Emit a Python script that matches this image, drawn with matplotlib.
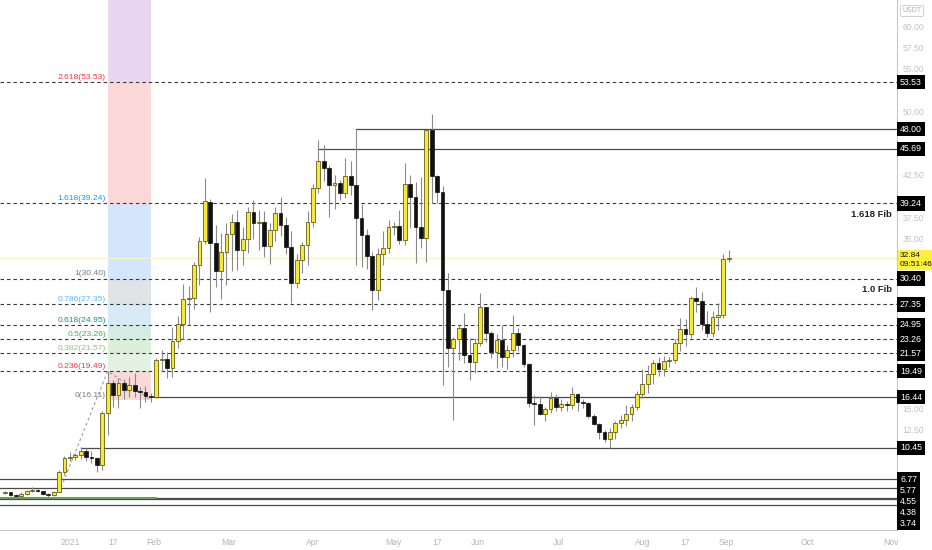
import numpy as np
import matplotlib
matplotlib.use('Agg')
import matplotlib.pyplot as plt

# ---------------- data (2-day candles) ----------------
opens = [5.1, 5.2, 4.9, 4.8, 5.0, 5.4, 5.45, 5.35, 5.0, 4.95,
         5.3, 7.6, 9.25, 9.4, 9.6, 10.05, 9.4, 9.3, 8.4, 14.6,
         18.1, 16.7, 18.1, 17.3, 17.9, 17.2, 17.0, 16.6, 16.44, 20.8,
         20.9, 19.9, 23.0, 25.0, 28.0, 28.1, 32.0, 34.8, 39.4, 34.6,
         31.3, 33.5, 35.6, 37.0, 33.8, 35.1, 38.2, 36.9, 37.1, 34.2,
         36.1, 38.1, 36.7, 34.1, 29.9, 32.6, 34.3, 37.0, 41.1, 44.2,
         43.4, 41.4, 41.6, 40.5, 42.5, 41.4, 37.5, 35.5, 33.0, 29.0,
         33.3, 34.0, 36.5, 36.6, 34.9, 41.5, 40.0, 36.5, 35.2, 47.9,
         42.5, 40.6, 29.0, 22.2, 23.3, 24.6, 21.4, 20.6, 22.8, 27.0,
         24.0, 21.7, 23.2, 21.2, 22.0, 24.0, 22.6, 20.3, 15.7, 15.6,
         14.5, 15.0, 16.3, 15.3, 15.6, 15.45, 16.8, 15.9, 15.75, 14.2,
         13.3, 12.3, 11.5, 12.3, 13.4, 13.7, 14.4, 15.3, 16.8, 18.0,
         19.2, 20.4, 19.7, 20.7, 20.8, 22.8, 24.5, 23.9, 28.1, 27.7,
         25.1, 24.0, 25.9, 26.1, 32.7]
highs = [5.4, 5.3, 5.0, 5.2, 5.5, 5.8, 5.6, 5.4, 5.1, 5.4,
         7.8, 9.5, 10.0, 9.9, 10.5, 10.4, 10.1, 9.4, 14.8, 19.49,
         18.5, 18.7, 18.6, 18.8, 19.3, 17.6, 17.7, 16.9, 21.0, 22.0,
         21.7, 24.7, 26.0, 29.8, 29.5, 32.3, 35.3, 42.2, 39.8, 36.7,
         35.8, 36.9, 38.0, 38.5, 36.5, 38.8, 39.6, 38.5, 38.4, 36.9,
         38.8, 40.0, 37.6, 36.0, 33.3, 34.7, 38.3, 41.5, 46.7, 46.1,
         43.8, 42.6, 42.0, 44.6, 44.2, 48.0, 39.2, 36.2, 33.5, 34.0,
         36.0, 37.3, 37.0, 38.5, 44.0, 42.6, 41.8, 42.3, 48.0, 49.8,
         42.6, 41.3, 31.0, 23.5, 25.0, 26.3, 23.4, 23.4, 28.7, 27.1,
         24.2, 23.9, 24.9, 22.6, 26.1, 24.6, 22.7, 20.5, 16.7, 16.6,
         15.3, 17.0, 16.8, 16.2, 16.0, 17.6, 16.9, 16.2, 15.9, 14.5,
         13.4, 12.6, 12.8, 13.6, 14.3, 15.5, 15.6, 17.2, 19.7, 20.2,
         20.8, 21.2, 21.3, 21.2, 23.3, 25.7, 25.6, 28.3, 29.4, 28.8,
         26.6, 26.6, 27.5, 33.3, 33.7]
lows = [5.0, 4.8, 4.7, 4.7, 4.9, 5.2, 5.2, 4.9, 4.7, 4.8,
        5.2, 7.3, 8.9, 9.0, 9.1, 8.9, 8.7, 7.6, 7.9, 12.0,
        15.3, 15.2, 16.2, 16.5, 16.4, 15.1, 15.8, 15.8, 16.3, 19.5,
        18.7, 18.8, 22.2, 23.3, 24.9, 26.8, 29.6, 34.5, 26.5, 29.4,
        28.0, 29.6, 31.3, 31.4, 32.0, 33.4, 35.0, 33.8, 32.9, 32.1,
        34.8, 35.4, 33.3, 27.5, 29.3, 31.0, 32.0, 36.5, 40.5, 41.9,
        37.6, 38.6, 39.6, 39.9, 40.2, 32.0, 31.8, 31.5, 26.7, 27.9,
        32.0, 33.4, 35.5, 34.5, 34.4, 36.3, 32.2, 34.0, 32.3, 39.3,
        39.3, 17.8, 20.0, 13.7, 20.8, 20.4, 18.4, 19.3, 22.4, 22.9,
        21.0, 19.9, 20.0, 19.8, 21.2, 21.9, 20.0, 15.3, 13.1, 14.3,
        13.6, 14.6, 14.8, 14.8, 14.8, 15.0, 14.8, 15.2, 14.0, 13.1,
        11.5, 11.2, 10.45, 11.5, 12.8, 13.0, 13.6, 14.9, 16.3, 16.9,
        18.0, 18.9, 18.9, 20.0, 20.4, 21.9, 22.4, 23.4, 26.4, 24.3,
        23.5, 23.5, 24.3, 25.8, 32.3]
closes = [5.2, 4.9, 4.8, 5.0, 5.4, 5.45, 5.35, 5.0, 4.95, 5.3,
          7.6, 9.25, 9.4, 9.6, 10.05, 9.4, 9.3, 8.4, 14.6, 18.1,
          16.7, 18.1, 17.3, 17.9, 17.2, 17.0, 16.6, 16.44, 20.8, 20.9,
          19.9, 23.0, 25.0, 28.0, 28.1, 32.0, 34.8, 39.5, 34.6, 31.3,
          33.5, 35.6, 37.0, 33.8, 35.1, 38.2, 36.9, 37.1, 34.2, 36.1,
          38.1, 36.7, 34.1, 29.9, 32.6, 34.3, 37.0, 41.1, 44.2, 43.4,
          41.4, 41.6, 40.5, 42.5, 41.4, 37.5, 35.5, 33.0, 29.0, 33.3,
          34.0, 36.5, 36.6, 34.9, 41.5, 40.0, 36.5, 35.2, 47.9, 42.5,
          40.6, 29.0, 22.2, 23.3, 24.6, 21.4, 20.6, 22.8, 27.0, 24.0,
          21.7, 23.2, 21.2, 22.0, 24.0, 22.6, 20.3, 15.7, 15.6, 14.5,
          15.0, 16.3, 15.3, 15.6, 15.45, 16.8, 15.9, 15.75, 14.2, 13.3,
          12.3, 11.5, 12.3, 13.4, 13.7, 14.4, 15.3, 16.8, 18.0, 19.2,
          20.4, 19.7, 20.7, 20.8, 22.8, 24.5, 23.9, 28.1, 27.7, 25.1,
          24.0, 25.9, 26.1, 32.7, 32.84]

start_date = np.datetime64('2020-12-08')
candle_days = 2
tick_dates = ['2021-01-01', '2021-01-17', '2021-02-01', '2021-03-01', '2021-04-01',
              '2021-05-01', '2021-05-17', '2021-06-01', '2021-07-01', '2021-08-01',
              '2021-08-17', '2021-09-01', '2021-10-01', '2021-11-01']
tick_labels = ['2021', '17', 'Feb', 'Mar', 'Apr', 'May', '17', 'Jun', 'Jul', 'Aug',
               '17', 'Sep', 'Oct', 'Nov']

price_ticks = [2.5, 5.0, 7.5, 10.0, 12.5, 15.0, 17.5, 20.0, 22.5, 25.0, 27.5, 30.0,
               32.5, 35.0, 37.5, 40.0, 42.5, 45.0, 47.5, 50.0, 52.5, 55.0, 57.5, 60.0, 62.5]

fib_ratios = ['0', '0.236', '0.382', '0.5', '0.618', '0.786', '1', '1.618', '2.618']
fib_prices = [16.11, 19.49, 21.57, 23.26, 24.95, 27.35, 30.40, 39.24, 53.53]
fib_top = 67.8
fib_label_colors = ['#787b86', '#f23645', '#81c784', '#4caf50', '#089981',
                    '#64b5f6', '#787b86', '#2196f3', '#f23645']
fib_zone_colors = ['#fcd9d9', '#e4f2e3', '#dcefda', '#d3ece4', '#d8e9f8',
                   '#e2e3e6', '#d3e6fc', '#fdd8d8', '#e9d6f0']
fib_anchor_idx = [10, 19, 27]
fib_anchor_price = [5.19, 19.49, 16.11]

ray_prices = [48.00, 45.69, 16.44, 10.45, 6.77, 5.77, 4.55, 4.38, 3.74]
ray_start_idx = [65, 58, 27.6, 14, None, None, None, None, None]
green_line_price = 4.55
green_line_end_idx = 28

last_price = 32.84
countdown = '09:51:46'
fib_notes = [('1.618 Fib', 39.24), ('1.0 Fib', 30.40)]

NARROW = ['Liberation Sans Narrow', 'Liberation Sans', 'DejaVu Sans']
plt.rcParams['font.family'] = NARROW

# ---------------- figure ----------------
W, H, DPI = 932, 550, 100
fig = plt.figure(figsize=(W / DPI, H / DPI), dpi=DPI)
ax = fig.add_axes([0, 20 / H, 897 / W, 530 / H])

px_left, px_step, px_right = 5.1, 5.4, 897
x_min = -px_left / px_step
x_max = (px_right - px_left) / px_step
ax.set_xlim(x_min, x_max)
ax.set_ylim(0.78, 63.2)

o = np.array(opens); h = np.array(highs); l = np.array(lows); c = np.array(closes)
x = np.arange(len(o))
up = c >= o

# fib zones
bx0, bx1 = fib_anchor_idx[1], fib_anchor_idx[2]
levels = fib_prices + [fib_top]
for k in range(len(fib_prices)):
    ax.fill_between([bx0, bx1], levels[k], levels[k + 1], color=fib_zone_colors[k],
                    lw=0, zorder=0.5)

# current price line
ax.axhline(last_price, color='#fbf3c4', lw=1.0, zorder=0.6)

# fib dashed lines (0 level not drawn)
for r, p, col in zip(fib_ratios, fib_prices, fib_label_colors):
    if r != '0':
        ax.plot([x_min, x_max], [p, p], color='#3a3a3a', lw=0.8,
                dashes=(3.2, 2.6), zorder=1)
    ax.annotate(f'{r}({p:.2f})', xy=(bx0 - 0.3, p), xytext=(0, 0.8),
                textcoords='offset points', ha='right', va='bottom',
                fontsize=6.1, color=col, zorder=5)

# trend lines of the fib tool
ax.plot([fib_anchor_idx[0], fib_anchor_idx[1], fib_anchor_idx[2]], fib_anchor_price,
        color='#9a9a9a', lw=0.8, dashes=(2.5, 2.5), zorder=1.5)

# horizontal rays
for p, s in zip(ray_prices, ray_start_idx):
    xs = x_min if s is None else s
    ax.plot([xs, x_max], [p, p], color='#4a4a4a', lw=0.9, zorder=1.2)
ax.plot([x_min, green_line_end_idx], [green_line_price, green_line_price],
        color='#6b9f58', lw=1.4, zorder=1.3)

# candles
ax.vlines(x, l, h, color='#8a8a8a', lw=0.8, zorder=2)
body_w = 0.74
heights = np.where(np.abs(c - o) < 0.08, 0.08, np.abs(c - o))
bottoms = np.minimum(o, c)
ax.bar(x[up], heights[up], bottom=bottoms[up], width=body_w,
       color='#f6e93c', edgecolor='#4a4500', linewidth=0.5, zorder=3)
ax.bar(x[~up], heights[~up], bottom=bottoms[~up], width=body_w,
       color='#111111', edgecolor='#111111', linewidth=0.5, zorder=3)

# notes
for txt, p in fib_notes:
    ax.annotate(txt, xy=(0.9945, p), xycoords=('axes fraction', 'data'),
                xytext=(0, -4.5), textcoords='offset points', ha='right', va='top',
                fontsize=6.8, fontweight='bold', color='#222222', zorder=6,
                family=['Liberation Sans', 'DejaVu Sans'])

# axes styling
for s in ['top', 'left']:
    ax.spines[s].set_visible(False)
for s in ['right', 'bottom']:
    ax.spines[s].set_color('#c8c8c8')
    ax.spines[s].set_linewidth(0.8)
ax.set_yticks([])
tick_x = [(np.datetime64(d) - start_date).astype(int) / candle_days for d in tick_dates]
ax.set_xticks(tick_x)
ax.set_xticklabels(tick_labels, fontsize=6.2, color='#b4b4b4')
ax.tick_params(axis='x', length=0, pad=6)
ax.patch.set_alpha(0)

# price labels (stacked so they do not overlap)
fig.canvas.draw()
label_prices = sorted(set(fib_prices[1:] + ray_prices), reverse=True)
prev = None
min_gap = 11.0
occupied = []
for p in label_prices:
    yd = ax.transData.transform((0, p))[1]
    yp = yd
    if prev is not None and prev - yp < min_gap:
        yp = prev - min_gap
    prev = yp
    occupied.append((yp - 6, yp + 6))
    off = (yp - yd) * 72 / DPI
    ax.annotate(f'{p:.2f}', xy=(1, p), xycoords=('axes fraction', 'data'),
                xytext=(2.2, off), textcoords='offset points', ha='left', va='center',
                fontsize=6.3, color='white', annotation_clip=False, zorder=10,
                bbox=dict(boxstyle='square,pad=0.3', fc='black', ec='none'))

y_last = ax.transData.transform((0, last_price))[1]
occupied.append((y_last - 18, y_last + 8))
ax.annotate(f'{last_price:.2f}\n{countdown}', xy=(1, last_price),
            xycoords=('axes fraction', 'data'), xytext=(2.2, 4), textcoords='offset points',
            ha='left', va='top', fontsize=6.0, color='#111111', linespacing=1.35,
            annotation_clip=False, zorder=10,
            bbox=dict(boxstyle='square,pad=0.3', fc='#fff03c', ec='none'))

# faint price scale labels, hidden where a price label sits
ax_top = ax.transAxes.transform((0, 1))[1]
for t in price_ticks:
    yt = ax.transData.transform((0, t))[1]
    if yt > ax_top - 15:
        continue
    if any(lo - 5 < yt < hi + 5 for lo, hi in occupied):
        continue
    ax.annotate(f'{t:.2f}', xy=(1, t), xycoords=('axes fraction', 'data'),
                xytext=(4, 0), textcoords='offset points', ha='left', va='center',
                fontsize=6.2, color='#c4c4c4', annotation_clip=False, zorder=1)

fig.text(912 / W, 1 - 11 / H, 'USDT', fontsize=5.0, color='#b0b0b0', ha='center',
         va='center', bbox=dict(boxstyle='round,pad=0.3', fc='white', ec='#c8c8c8', lw=0.6))

fig.savefig('out.png', dpi=DPI, facecolor='white')
